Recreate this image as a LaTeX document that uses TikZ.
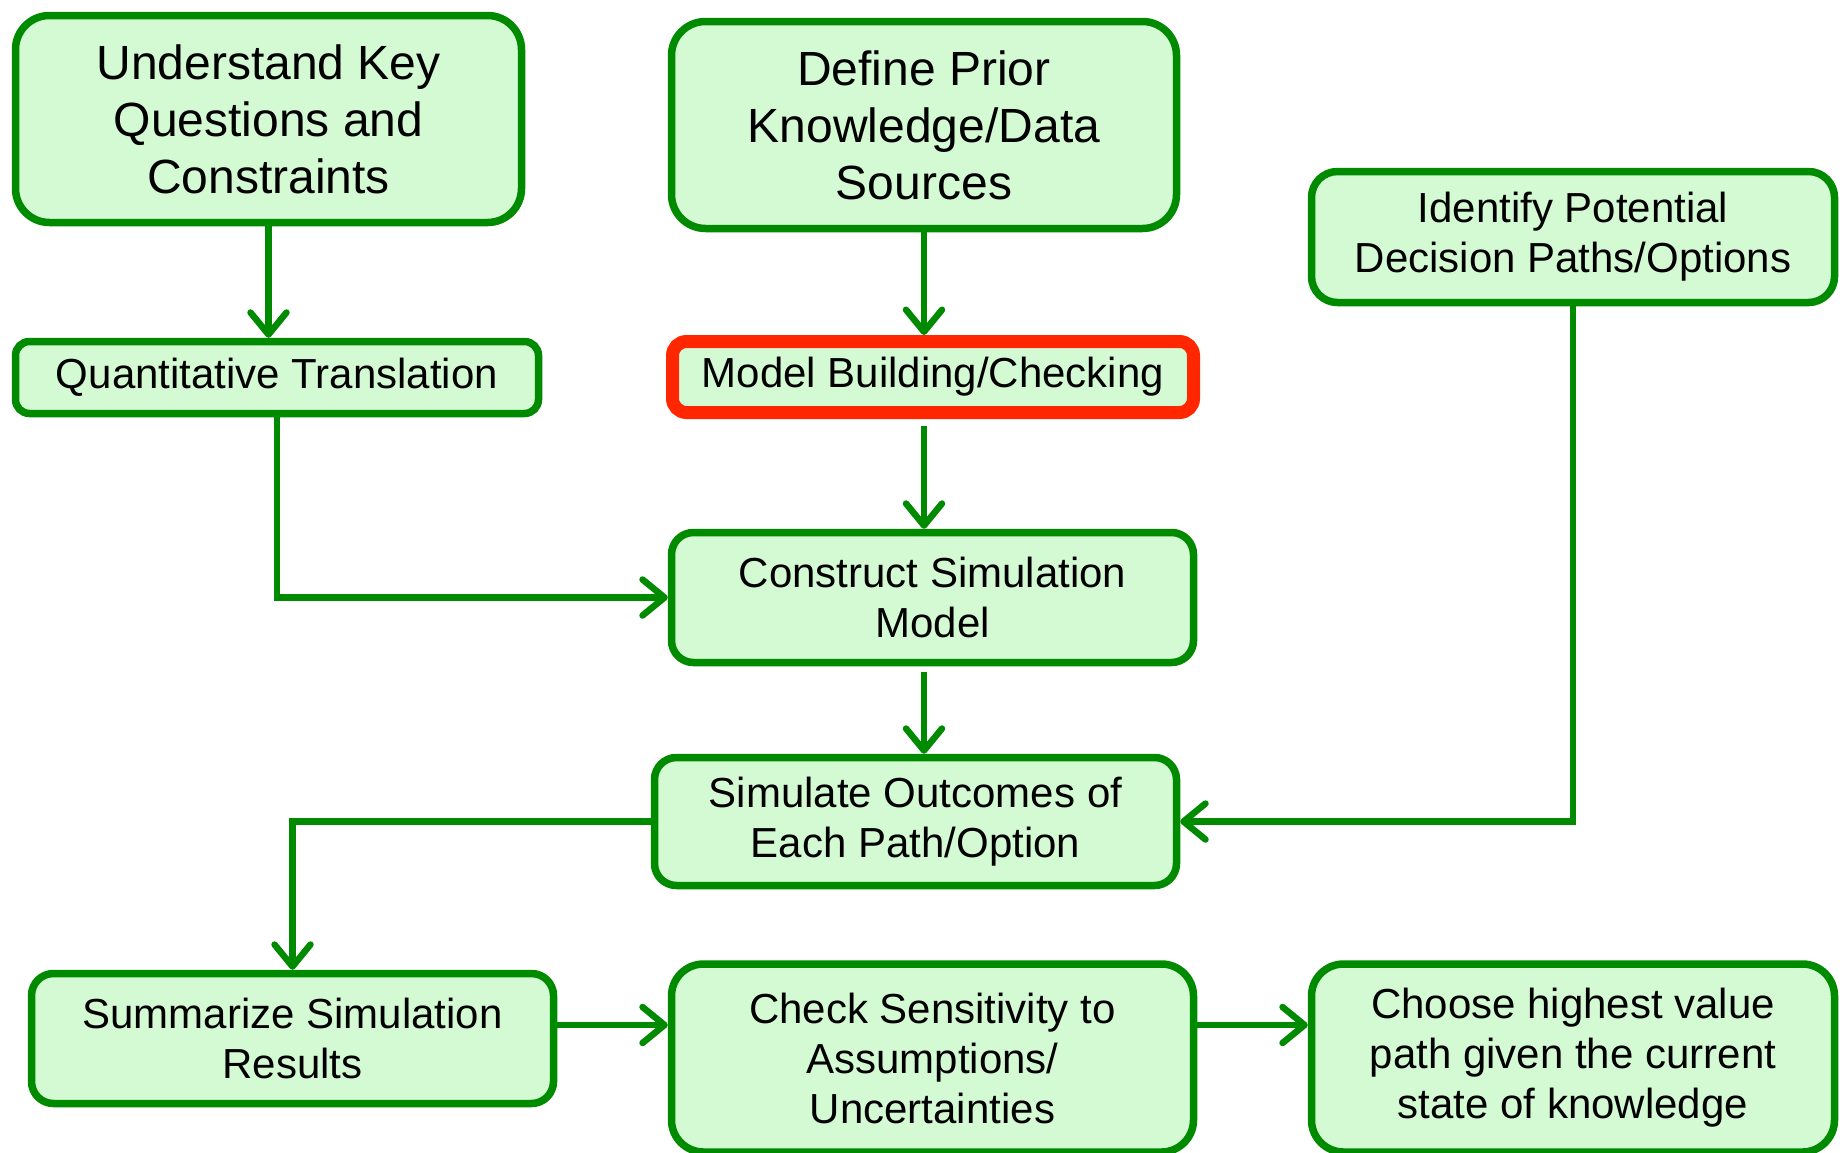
\documentclass[tikz,border=0pt]{standalone}
\usepackage{fontspec}
\setmainfont{Liberation Sans}
\usepackage{tikz}
\usetikzlibrary{arrows.meta}
\definecolor{boxgreen}{RGB}{0,138,0}
\definecolor{boxfill}{RGB}{212,250,212}
\definecolor{boxred}{RGB}{255,38,0}

\begin{document}
\begin{tikzpicture}[x=1pt,y=-1pt,
  box/.style={draw=boxgreen, fill=boxfill, line width=7.5pt, rounded corners=22pt,
    align=center, inner sep=0pt, font=\fontsize{42}{50}\selectfont},
  bigbox/.style={box, rounded corners=34pt, font=\fontsize{48}{57}\selectfont},
  flatbox/.style={box, rounded corners=14pt},
  flow/.style={draw=boxgreen, line width=6.5pt,
    -{Straight Barb[length=22pt,width=36pt,round]}}]
\useasboundingbox (0,0) rectangle (1847,1152);
% top row
\node[bigbox, minimum width=506pt, minimum height=207pt] (understand) at (268.5,119) {Understand Key\\Questions and\\Constraints};
\node[bigbox, minimum width=505pt, minimum height=207pt] (prior) at (924,125) {Define Prior\\Knowledge/Data\\Sources};
\node[box, rounded corners=26pt, minimum width=523pt, minimum height=131pt] (identify) at (1573,237) {Identify Potential\\Decision Paths/Options};
% second row
\node[flatbox, minimum width=523pt, minimum height=72pt] (quant) at (277,377.5) {Quantitative Translation};
\node[flatbox, draw=boxred, line width=13pt, minimum width=521pt, minimum height=71pt] (modelbuild) at (933,377) {Model Building/Checking};
% middle
\node[box, minimum width=522pt, minimum height=130pt] (construct) at (932.5,597.5) {Construct Simulation\\Model};
\node[box, minimum width=522pt, minimum height=128pt] (simulate) at (915.5,821.5) {Simulate Outcomes of\\Each Path/Option};
% bottom row
\node[box, minimum width=522pt, minimum height=130pt] (summarize) at (292.5,1038.5) {Summarize Simulation\\Results};
\node[box, rounded corners=32pt, minimum width=522pt, minimum height=188pt] (sensitivity) at (932.5,1058) {Check Sensitivity to\\Assumptions/\\Uncertainties};
\node[box, rounded corners=32pt, minimum width=523pt, minimum height=188pt] (choose) at (1573,1058) {Choose highest value\\path given the current\\state of knowledge};
\coordinate (lowrow) at (0,1025);
% connectors
\draw[flow] (understand.south) -- (understand.south |- quant.north);
\draw[flow] (prior.south) -- (prior.south |- modelbuild.north);
\draw[flow, shorten <=6.5pt] (prior.south |- modelbuild.south) -- (prior.south |- construct.north);
\draw[flow] (quant.south) |- (construct.west);
\draw[flow, shorten <=6pt] (prior.south |- construct.south) -- (prior.south |- simulate.north);
\draw[flow] (identify.south) |- (simulate.east);
\draw[flow] (simulate.west) -| (summarize.north);
\draw[flow] (summarize.east |- lowrow) -- (sensitivity.west |- lowrow);
\draw[flow] (sensitivity.east |- lowrow) -- (choose.west |- lowrow);
\end{tikzpicture}
\end{document}
